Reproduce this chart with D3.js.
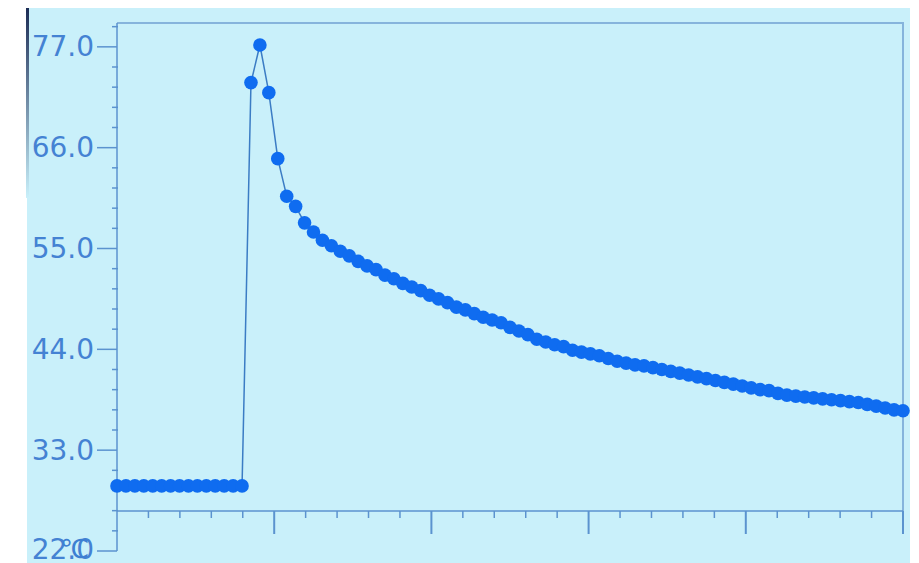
<!DOCTYPE html>
<html>
<head>
<meta charset="utf-8">
<script src="https://cdn.jsdelivr.net/npm/d3@7"></script>
<style>
  body { margin: 0; background: #fff; }
</style>
</head>
<body>
<svg width="919" height="563"></svg>
<script>
// temperature readings, one per sample
const temps = [
  29.1, 29.1, 29.1, 29.1, 29.1, 29.1, 29.1, 29.1, 29.1, 29.1, 29.1, 29.1, 29.1, 29.1, 29.1,
  73.1, 77.2, 72.0, 64.8, 60.7, 59.6, 57.8, 56.8, 55.9, 55.3, 54.7, 54.2, 53.6, 53.1,
  52.7, 52.1, 51.7, 51.2, 50.8, 50.4, 49.9, 49.5, 49.1, 48.6, 48.3, 47.9, 47.5, 47.2,
  46.9, 46.4, 46.0, 45.6, 45.1, 44.8, 44.5, 44.3, 43.9, 43.7, 43.5, 43.3, 43.0, 42.7,
  42.5, 42.3, 42.2, 42.0, 41.8, 41.6, 41.4, 41.2, 41.0, 40.8, 40.6, 40.4, 40.2, 40.0,
  39.8, 39.6, 39.5, 39.2, 39.0, 38.9, 38.8, 38.7, 38.6, 38.5, 38.4, 38.3, 38.2, 38.0,
  37.8, 37.6, 37.4, 37.3
];
const yMajor = [22, 33, 44, 55, 66, 77];
const yMinorStep = 2.2;
const xDivisions = 25;   // small divisions along the time axis
const xMajorEvery = 5;
const unitLabel = "℃";

const svg = d3.select("svg");

// screen background
svg.append("rect").attr("x", 27).attr("y", 8).attr("width", 883).attr("height", 555).attr("fill", "#c9f0fa");
const grad = svg.append("defs").append("linearGradient").attr("id", "edge").attr("x1", 0).attr("x2", 0).attr("y1", 0).attr("y2", 1);
grad.append("stop").attr("offset", "0%").attr("stop-color", "#1c2c55");
grad.append("stop").attr("offset", "100%").attr("stop-color", "#c9f0fa");
svg.append("rect").attr("x", 26).attr("y", 8).attr("width", 3).attr("height", 190).attr("fill", "url(#edge)");

const plotLeft = 117, plotRight = 903, plotTop = 23, axisY = 511;

const x = d3.scaleLinear().domain([0, temps.length - 1]).range([plotLeft, plotRight]);
const xDiv = d3.scaleLinear().domain([0, xDivisions]).range([plotLeft, plotRight]);
const y = d3.scaleLinear().domain([22, 79.6]).range([551, plotTop]);

const axisColor = "#5b93cf";

// plot frame (top + right)
svg.append("path")
  .attr("d", `M${plotLeft},${plotTop}H${plotRight}V${axisY}`)
  .attr("fill", "none").attr("stroke", "#86b4dc").attr("stroke-width", 2);

// y axis
svg.append("line").attr("x1", plotLeft).attr("x2", plotLeft).attr("y1", plotTop).attr("y2", y(22))
  .attr("stroke", axisColor).attr("stroke-width", 1.5);
const yMinor = d3.range(22, 79.61, yMinorStep).filter(v => !yMajor.some(m => Math.abs(m - v) < 0.01));
svg.append("g").selectAll("line").data(yMinor).join("line")
  .attr("x1", plotLeft - 5).attr("x2", plotLeft + 1)
  .attr("y1", d => y(d)).attr("y2", d => y(d))
  .attr("stroke", axisColor).attr("stroke-width", 1.5);
svg.append("g").selectAll("line").data(yMajor).join("line")
  .attr("x1", plotLeft - 20).attr("x2", plotLeft)
  .attr("y1", d => y(d)).attr("y2", d => y(d))
  .attr("stroke", axisColor).attr("stroke-width", 1.5);
svg.append("g").selectAll("text").data(yMajor).join("text")
  .attr("x", 94).attr("y", d => d === 22 ? y(d) - 2 : y(d))
  .attr("text-anchor", "end").attr("dominant-baseline", "central")
  .style("font-family", "DejaVu Sans").style("font-size", "28px")
  .attr("fill", "#4482d3")
  .text(d => d.toFixed(1));
svg.append("text")
  .attr("x", 60).attr("y", y(22) - 2)
  .attr("dominant-baseline", "central")
  .style("font-family", "DejaVu Sans").style("font-size", "26px")
  .attr("fill", "#3d7fd2")
  .text(unitLabel);

// x axis
svg.append("line").attr("x1", plotLeft).attr("x2", plotRight).attr("y1", axisY).attr("y2", axisY)
  .attr("stroke", axisColor).attr("stroke-width", 1.5);
svg.append("g").selectAll("line").data(d3.range(1, xDivisions + 1)).join("line")
  .attr("x1", d => xDiv(d)).attr("x2", d => xDiv(d))
  .attr("y1", axisY).attr("y2", d => d % xMajorEvery === 0 ? axisY + 23 : axisY + 7)
  .attr("stroke", axisColor).attr("stroke-width", d => d % xMajorEvery === 0 ? 2 : 1.5);

// trace
const line = d3.line().x((d, i) => x(i)).y(d => y(d));
svg.append("path").datum(temps)
  .attr("d", line)
  .attr("fill", "none").attr("stroke", "#3b7cc4").attr("stroke-width", 1.5);
svg.append("g").selectAll("circle").data(temps).join("circle")
  .attr("cx", (d, i) => x(i)).attr("cy", d => y(d)).attr("r", 6.8)
  .attr("fill", "#0f6cf0");
</script>
</body>
</html>
